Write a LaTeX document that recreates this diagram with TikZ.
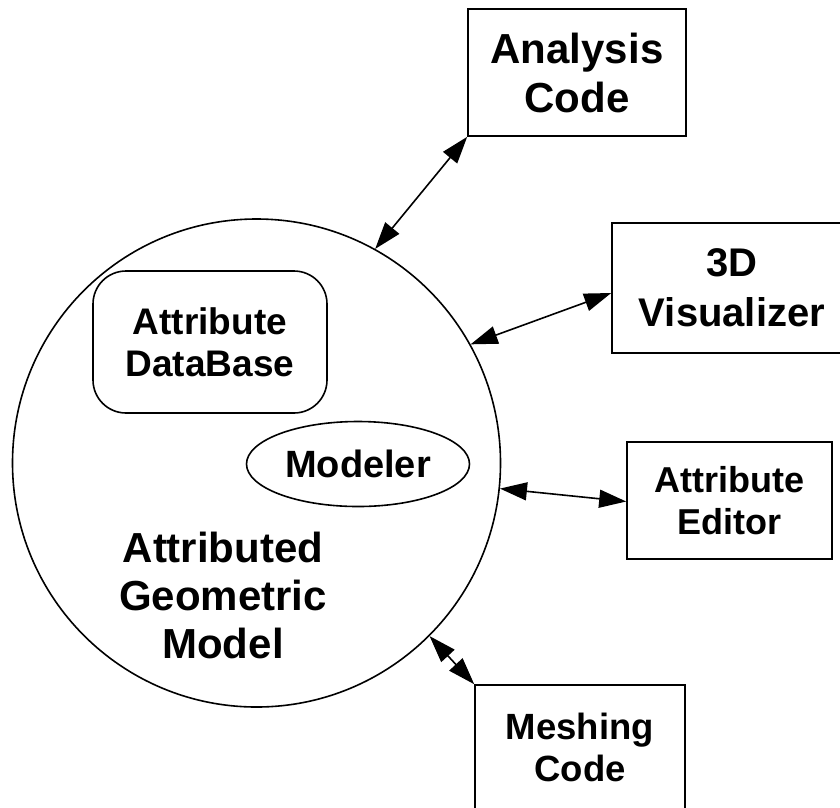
\documentclass[tikz,border=0pt]{standalone}
\usepackage{fontspec}
\setmainfont{Liberation Sans}
\usetikzlibrary{shapes.geometric,arrows.meta}

\begin{document}
\begin{tikzpicture}[x=1pt,y=-1pt,
	every node/.style={line width=1.6pt,inner sep=0pt,align=center},
	tool/.style={draw,rectangle},
	link/.style={>={Triangle[length=27pt,width=18pt]},<->,line width=1.6pt}]

		\clip (0,0) rectangle (840,807);

		% the model and what lives in it
		\node[circle,draw,minimum size=488pt] (agm) at (256.5,463) {};
		\node[draw,rounded corners=33pt,minimum width=234pt,minimum height=142pt,
			font=\bfseries\fontsize{37}{42}\selectfont] (adb) at (210,342) {Attribute\\DataBase};
		\node[ellipse,draw,minimum width=223pt,minimum height=85pt,
			font=\bfseries\fontsize{38}{42}\selectfont] (mod) at (358,464) {Modeler};
		\node[font=\bfseries\fontsize{42}{48}\selectfont] (agmtext) at (223,595) {Attributed\\Geometric\\Model};

		% the tools round it
		\node[tool,minimum width=218pt,minimum height=127pt,
			font=\bfseries\fontsize{42}{49}\selectfont] (ana) at (577,72.5) {Analysis\\Code};
		\node[tool,minimum width=240pt,minimum height=130pt,
			font=\bfseries\fontsize{40}{50}\selectfont] (vis) at (732,288) {3D\\Visualizer};
		\node[tool,minimum width=205pt,minimum height=117pt,
			font=\bfseries\fontsize{36}{42}\selectfont] (edi) at (729.5,500.5) {Attribute\\Editor};
		\node[tool,minimum width=210pt,minimum height=125pt,
			font=\bfseries\fontsize{36.5}{42}\selectfont] (msh) at (580,747.5) {Meshing\\Code};

		\draw[link] (ana.south west) -- (agm.61.25);
		\draw[link] ([yshift=-5pt]vis.west) -- (agm.29.2);
		\draw[link] ([yshift=-1pt]edi.west) -- (agm.-6.3);
		\draw[link] (msh.north west) -- (agm.-45);
\end{tikzpicture}
\end{document}
